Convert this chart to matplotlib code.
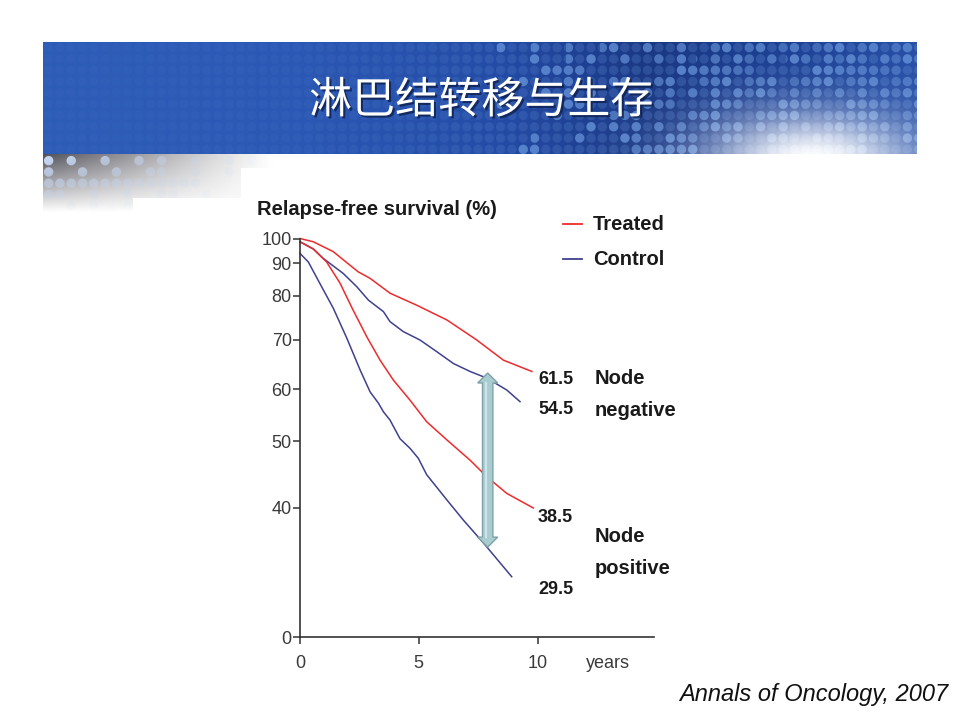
import numpy as np
import matplotlib
matplotlib.use("Agg")
import matplotlib.pyplot as plt
import matplotlib.patheffects as pe
from matplotlib.lines import Line2D
from matplotlib.patches import Polygon

plt.rcParams['font.family'] = ['Liberation Sans', 'DejaVu Sans']

##------------- data ----------------------------------------
# years / relapse-free survival (%)
treated_neg_t = [0, 0.56, 1.40, 2.45, 2.95, 3.79, 4.91, 6.18, 7.44, 8.56, 9.76]
treated_neg_s = [100, 98.6, 94.5, 87.2, 85.2, 80.8, 77.8, 74.4, 70.0, 65.7, 63.4]

control_neg_t = [0, 0.56, 0.98, 1.82, 2.39, 2.88, 3.51, 3.79, 4.35, 5.05, 5.75,
                 6.46, 7.16, 7.86, 8.70, 9.26]
control_neg_s = [98.6, 95.6, 91.8, 86.7, 82.7, 79.0, 76.3, 74.0, 71.8, 70.0, 67.5,
                 65.0, 63.4, 62.1, 59.8, 57.4]

treated_pos_t = [0, 0.56, 1.12, 1.68, 2.23, 2.82, 3.37, 3.93, 4.63, 5.33, 6.18,
                 7.16, 7.86, 8.70, 9.82]
treated_pos_s = [98.6, 95.6, 90.4, 83.8, 76.7, 70.6, 65.7, 61.7, 57.7, 53.5, 50.2,
                 46.9, 44.4, 42.0, 40.0]

control_pos_t = [0, 0.35, 0.91, 1.40, 1.97, 2.53, 2.95, 3.30, 3.51, 3.79, 4.21,
                 4.63, 4.98, 5.33, 6.18, 6.88, 7.72, 8.91]
control_pos_s = [93.8, 90.4, 82.7, 77.1, 70.4, 63.7, 59.4, 57.1, 55.4, 53.8, 50.4,
                 48.8, 47.2, 44.7, 41.1, 38.4, 35.6, 31.8]

end_labels = ['61.5', '54.5', '38.5', '29.5']
group_labels = [('Node', 'negative'), ('Node', 'positive')]
legend_labels = ['Treated', 'Control']

x_ticks = [0, 5, 10]
y_ticks = [40, 50, 60, 70, 80, 90, 100]
axis_floor = 26.0   # broken axis: bottom of the axis is labelled "0"

# gap between the two node-negative curves (arrow)
arrow_x = 7.9
arrow_top = 63.1
arrow_bot = 35.1

RED = '#ee2b2b'
BLUE = '#3f4190'

W_PX, H_PX = 960, 720
def fx(p): return p / W_PX
def fy(p): return 1 - p / H_PX


##------------- slide background -----------------
fig = plt.figure(figsize=(9.6, 7.2), dpi=100)
fig.patch.set_facecolor('white')

bx0, bx1, by0, by1 = 43, 917, 42, 214
yy, xx = np.mgrid[0:by1 - by0, 0:bx1 - bx0]
px = xx + bx0 + 0.5
py = yy + by0 + 0.5

sx = [43, 300, 500, 650, 800, 917]
base = np.stack([np.interp(px, sx, [46, 43, 36, 26, 30, 40]),
                 np.interp(px, sx, [93, 88, 76, 56, 66, 80]),
                 np.interp(px, sx, [184, 180, 166, 132, 150, 166])], axis=-1)

# dot grid
sp = 11.3
ci = np.floor((px - bx0) / sp)
cj = np.floor((py - by0) / sp)
dx = px - (bx0 + (ci + 0.5) * sp)
dy = py - (by0 + (cj + 0.5) * sp)
dot = np.clip(5.2 - np.sqrt(dx**2 + dy**2), 0, 1)
hsh = ((ci * 37 + cj * 91 + (ci * cj) % 13 * 7) % 10) / 10.0
presence = np.interp(px, [43, 480, 600, 720, 917], [-0.1, -0.05, 0.3, 0.55, 0.7])
faint = np.interp(px, [43, 300, 600, 917], [0.04, 0.08, 0.25, 0.3])
lvl = np.where(hsh < presence, 0.3 + 0.5 * (1 - hsh), faint)
dotcol = np.array([100, 145, 215])
a = (dot * lvl)[..., None]
img = base * (1 - a) + dotcol * a

# white glow at lower right
g = np.exp(-(((px - 812) / 105) ** 2 + ((py - 162) / 48) ** 2))[..., None]
img = img * (1 - g) + 255 * g

# grey shadow below the banner
shadow = (py >= 154)
s = np.clip(1 - (px - 43) / 230, 0, 1) ** 1.1 * np.clip(1 - (py - 154) / 58, 0, 1)
grey = 255 - s * 175
gimg = np.stack([grey, grey, grey + s * 8], axis=-1)
ga = (dot * np.clip(s * 1.2, 0, 1) * (hsh < 0.35))[..., None]
gimg = gimg * (1 - ga) + np.array([196, 212, 238]) * ga
img = np.where(shadow[..., None], gimg, img)
white = ((px >= 241) & (py >= 168)) | ((px >= 133) & (py >= 198))
img[white] = 255

ax_bg = fig.add_axes([fx(bx0), fy(by1), (bx1 - bx0) / W_PX, (by1 - by0) / H_PX])
ax_bg.imshow(np.clip(img, 0, 255).astype(np.uint8), aspect='auto', interpolation='bilinear')
ax_bg.axis('off')

fig.text(fx(481), fy(101), '淋巴结转移与生存', family=['Noto Sans CJK SC', 'DejaVu Sans'],
         fontsize=31, fontweight='medium', color='white', ha='center', va='center',
         path_effects=[pe.withSimplePatchShadow(offset=(1.5, -1.5), shadow_rgbFace='#0d1f4d', alpha=0.8)])


##------------- the plot -----------------
scale_vals = np.array([axis_floor] + y_ticks)
scale_h = 637 - np.array([637, 508, 441, 389, 340, 296, 263, 238.5])

def fwd(v):
    v = np.clip(np.asarray(v, dtype=float), 1e-6, None)
    return np.interp(np.log(v), np.log(scale_vals), scale_h)

def inv(h):
    return np.exp(np.interp(h, scale_h, np.log(scale_vals)))

ax = fig.add_axes([fx(300), fy(637), 354 / W_PX, (637 - 238.5) / H_PX])
ax.set_facecolor('none')
ax.set_yscale('function', functions=(fwd, inv))
ax.set_xlim(0, 14.9)
ax.set_ylim(axis_floor, 100)

lw = 1.1
ax.plot(treated_neg_t, treated_neg_s, color=RED, lw=lw, clip_on=False)
ax.plot(control_neg_t, control_neg_s, color=BLUE, lw=lw, clip_on=False)
ax.plot(treated_pos_t, treated_pos_s, color=RED, lw=lw, clip_on=False)
ax.plot(control_pos_t, control_pos_s, color=BLUE, lw=lw, clip_on=False)

ax.set_xticks(x_ticks)
ax.set_xticklabels([str(t) for t in x_ticks])
ax.set_yticks([axis_floor] + y_ticks)
ax.set_yticklabels(['0'] + [str(t) for t in y_ticks])
ax.tick_params(axis='both', colors='#333333', labelsize=13, length=5, width=1.1,
               labelcolor='#3a3a3a')
ax.tick_params(axis='y', pad=1)
ax.tick_params(axis='x', pad=8)
for side in ['top', 'right']:
    ax.spines[side].set_visible(False)
for side in ['left', 'bottom']:
    ax.spines[side].set_color('#333333')
    ax.spines[side].set_linewidth(1.2)

# double headed arrow, built in pixels then put back in data coords
fig.canvas.draw()
cx, ty = ax.transData.transform((arrow_x, arrow_top))
_, by = ax.transData.transform((arrow_x, arrow_bot))
bw, hw, hl = 5.2, 10.0, 10.0
verts_px = [(cx, ty), (cx + hw, ty - hl), (cx + bw, ty - hl), (cx + bw, by + hl),
            (cx + hw, by + hl), (cx, by), (cx - hw, by + hl), (cx - bw, by + hl),
            (cx - bw, ty - hl), (cx - hw, ty - hl)]
verts = ax.transData.inverted().transform(verts_px)
ax.add_patch(Polygon(verts, closed=True, facecolor='#a9ccd0', edgecolor='#7ea2a7',
                     lw=1.0, zorder=5, clip_on=False))
lx = ax.transData.inverted().transform([(cx - 1.5, ty - hl), (cx - 1.5, by + hl)])
ax.plot(lx[:, 0], lx[:, 1], color='#cfe5e7', lw=1.6, zorder=6, clip_on=False)

##------------- texts -----------------
fig.text(fx(257), fy(209), 'Relapse-free survival (%)', fontsize=14.5, fontweight='bold',
         color='#1a1a1a', ha='left', va='center')

for (col, yl, lab) in [(RED, 224, legend_labels[0]), (BLUE, 259, legend_labels[1])]:
    fig.add_artist(Line2D([fx(563), fx(582)], [fy(yl), fy(yl)], color=col, lw=1.3))
    fig.text(fx(593), fy(yl), lab, fontsize=14.5, fontweight='bold', color='#1a1a1a',
             ha='left', va='center')

for lab, yl in zip(end_labels, [379, 410, 517, 589]):
    fig.text(fx(538), fy(yl), lab, fontsize=13, fontweight='bold', color='#1a1a1a',
             ha='left', va='center')

for (l1, l2), yl in zip(group_labels, [379, 537]):
    fig.text(fx(595), fy(yl), l1, fontsize=14.5, fontweight='bold', color='#1a1a1a',
             ha='left', va='center')
    fig.text(fx(595), fy(yl + 31), l2, fontsize=14.5, fontweight='bold', color='#1a1a1a',
             ha='left', va='center')

fig.text(fx(586), fy(663), 'years', fontsize=13, color='#3a3a3a', ha='left', va='center')

fig.text(fx(948), fy(694), 'Annals of Oncology, 2007', fontsize=17, style='italic',
         color='#111111', ha='right', va='center')

fig.savefig('out.png', dpi=100)
